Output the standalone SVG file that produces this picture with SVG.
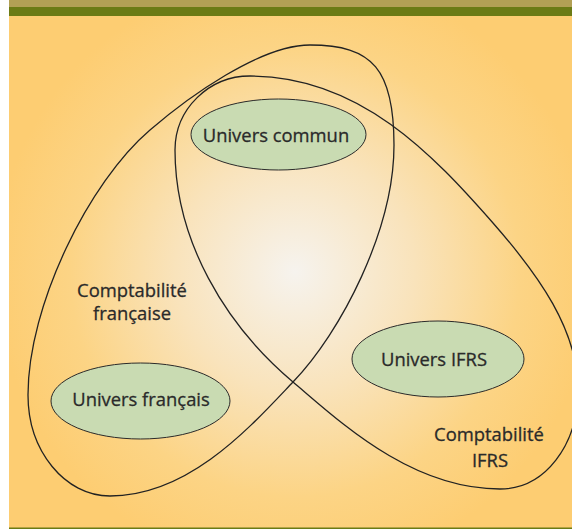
<svg xmlns="http://www.w3.org/2000/svg" width="572" height="529" viewBox="0 0 572 529">
  <defs>
    <radialGradient id="glow" gradientUnits="userSpaceOnUse" cx="295" cy="272" r="300">
      <stop offset="0" stop-color="#f6f3ee"/>
      <stop offset="0.4" stop-color="#f9e3bb"/>
      <stop offset="0.75" stop-color="#fcd485"/>
      <stop offset="1" stop-color="#fdcd72"/>
    </radialGradient>
  </defs>
  <style>
    .set { fill: none; stroke: #222; stroke-width: 1.3; }
    .bubble { fill: #c9dbb2; stroke: #2a2a2a; stroke-width: 1; }
    .label { font-family: "Open Sans", "Noto Sans", "Liberation Sans", sans-serif; font-size: 18.4px; fill: #2a2a2a; stroke: #2a2a2a; stroke-width: 0.3; text-anchor: middle; }
  </style>

  <!-- page frame -->
  <rect x="0" y="0" width="572" height="529" fill="#ffffff"/>
  <rect x="9" y="16" width="563" height="512" fill="url(#glow)"/>
  <rect x="9" y="0" width="563" height="7" fill="#b2a055"/>
  <rect x="9" y="7" width="563" height="9" fill="#6b7b15"/>
  <rect x="9" y="527.5" width="563" height="1.5" fill="#6b7b15"/>

  <!-- the two overlapping sets -->
  <g id="set-francaise">
    <path class="set" d="M310,45 C373,45 394,70 394,145 C394,230 341,332 293,382 C252,425 190,496 110,496 C65,496 28,451 28,395 C28,305 89,182 150,130 C188,97.5 260,45 310,45 Z"/>
    <text class="label" x="132" y="297">Comptabilité</text>
    <text class="label" x="132" y="320">française</text>
  </g>

  <g id="set-ifrs">
    <path class="set" d="M250,76 C360,76 433.6,155.5 493,223 C539,275.5 578,330 578,390 C578,445 545,489 500,489 C410,489 338.6,420.4 293,382 C224.6,324.4 175,240 175,150 C175,109 209,76 250,76 Z"/>
    <text class="label" x="489" y="441">Comptabilité</text>
    <text class="label" x="490" y="467">IFRS</text>
  </g>

  <!-- universes -->
  <g id="univers-commun">
    <ellipse class="bubble" cx="278.5" cy="134.5" rx="87.5" ry="35.5"/>
    <text class="label" x="276" y="142">Univers commun</text>
  </g>

  <g id="univers-francais">
    <ellipse class="bubble" cx="140.5" cy="401" rx="89.5" ry="38"/>
    <text class="label" x="141" y="406">Univers français</text>
  </g>

  <g id="univers-ifrs">
    <ellipse class="bubble" cx="438" cy="359" rx="86" ry="38"/>
    <text class="label" x="434" y="366">Univers IFRS</text>
  </g>
</svg>
